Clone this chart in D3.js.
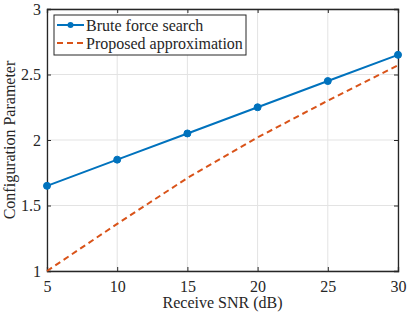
<!DOCTYPE html>
<html>
<head>
<meta charset="utf-8">
<script src="https://cdn.jsdelivr.net/npm/d3@7"></script>
<style>
  body { margin: 0; background: #fff; }
  svg text { font-family: "Liberation Serif", "DejaVu Serif", serif; fill: #262626; }
</style>
</head>
<body>
<div id="chart"></div>
<script>
// data
const snr = [5, 10, 15, 20, 25, 30];
const bruteForce = [1.65, 1.85, 2.05, 2.25, 2.45, 2.65];
const proposed = [1.0, 1.36, 1.71, 2.02, 2.30, 2.57];
const xTicks = [5, 10, 15, 20, 25, 30];
const yTicks = [1, 1.5, 2, 2.5, 3];
const seriesNames = ["Brute force search", "Proposed approximation"];

const width = 407, height = 316;
const margin = { top: 9, right: 9, bottom: 45, left: 47 };
const w = width - margin.left - margin.right;
const h = height - margin.top - margin.bottom;

const blue = "#0072BD";
const orange = "#D95319";
const axisColor = "#262626";

const svg = d3.select("#chart").append("svg")
    .attr("width", width)
    .attr("height", height);

const g = svg.append("g")
    .attr("transform", `translate(${margin.left},${margin.top})`);

const x = d3.scaleLinear().domain([5, 30]).range([0, w]);
const y = d3.scaleLinear().domain([1, 3]).range([h, 0]);

// grid
xTicks.forEach(t => {
    g.append("line")
        .attr("x1", x(t)).attr("x2", x(t))
        .attr("y1", 0).attr("y2", h)
        .attr("stroke", "#e3e3e3").attr("stroke-width", 1);
});
yTicks.forEach(t => {
    g.append("line")
        .attr("x1", 0).attr("x2", w)
        .attr("y1", y(t)).attr("y2", y(t))
        .attr("stroke", "#e3e3e3").attr("stroke-width", 1);
});

// axes, ticks pointing inward
const xAxis = g.append("g")
    .attr("transform", `translate(0,${h})`)
    .call(d3.axisBottom(x).tickValues(xTicks).tickSize(-4).tickPadding(10).tickFormat(d3.format("d")));
const yAxis = g.append("g")
    .call(d3.axisLeft(y).tickValues(yTicks).tickSize(-4).tickPadding(6).tickFormat(d => d));
g.append("g")
    .attr("transform", `translate(${w},0)`)
    .call(d3.axisRight(y).tickValues(yTicks).tickSize(-4).tickFormat(""));
g.append("g")
    .call(d3.axisTop(x).tickValues(xTicks).tickSize(-4).tickFormat(""));

g.selectAll(".domain").attr("stroke", axisColor).attr("stroke-width", 1.3);
g.selectAll(".tick line").attr("stroke", axisColor).attr("stroke-width", 1);
g.selectAll(".tick text")
    .attr("font-size", "16px")
    .attr("font-family", "'Liberation Serif', serif")
    .attr("fill", axisColor);

// series
const line = d3.line().x(d => x(d[0])).y(d => y(d[1]));

g.append("path")
    .datum(snr.map((s, i) => [s, proposed[i]]))
    .attr("fill", "none")
    .attr("stroke", orange)
    .attr("stroke-width", 2)
    .attr("stroke-dasharray", "6,4")
    .attr("d", line);

g.append("path")
    .datum(snr.map((s, i) => [s, bruteForce[i]]))
    .attr("fill", "none")
    .attr("stroke", blue)
    .attr("stroke-width", 2)
    .attr("d", line);

g.selectAll(".pt")
    .data(snr.map((s, i) => [s, bruteForce[i]]))
    .enter().append("circle")
    .attr("cx", d => x(d[0]))
    .attr("cy", d => y(d[1]))
    .attr("r", 3.5)
    .attr("fill", blue)
    .attr("stroke", blue)
    .attr("stroke-width", 1);

// axis labels
svg.append("text")
    .attr("x", margin.left + w / 2)
    .attr("y", 308)
    .attr("text-anchor", "middle")
    .attr("font-size", "16px")
    .text("Receive SNR (dB)");

svg.append("text")
    .attr("transform", `translate(15,${margin.top + h / 2}) rotate(-90)`)
    .attr("text-anchor", "middle")
    .attr("font-size", "16px")
    .text("Configuration Parameter");

// legend
const lg = svg.append("g").attr("transform", "translate(54,15)");
lg.append("rect")
    .attr("width", 192).attr("height", 40)
    .attr("fill", "#fff")
    .attr("stroke", axisColor).attr("stroke-width", 1);

seriesNames.forEach((name, i) => {
    const cy = 10 + i * 18;
    lg.append("line")
        .attr("x1", 3).attr("x2", 30)
        .attr("y1", cy).attr("y2", cy)
        .attr("stroke", i === 0 ? blue : orange)
        .attr("stroke-width", 2)
        .attr("stroke-dasharray", i === 0 ? null : "6,4");
    if (i === 0) {
        lg.append("circle")
            .attr("cx", 16.5).attr("cy", cy).attr("r", 3)
            .attr("fill", blue);
    }
    lg.append("text")
        .attr("x", 32).attr("y", cy)
        .attr("dy", "0.35em")
        .attr("font-size", "16px")
        .text(name);
});
</script>
</body>
</html>
